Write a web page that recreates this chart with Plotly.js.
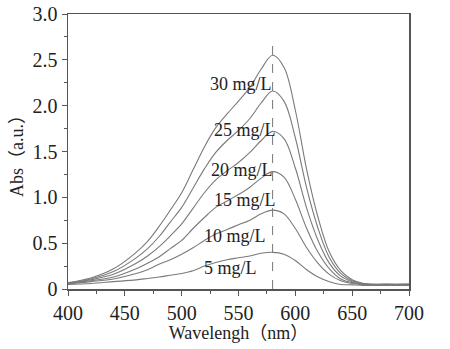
<!DOCTYPE html>
<html>
<head>
<meta charset="utf-8">
<script src="https://cdn.plot.ly/plotly-3.0.1.min.js"></script>
<style>html,body{margin:0;padding:0;background:#fff;}#chart{width:450px;height:349px;}</style>
</head>
<body>
<div id="chart"></div>
<script>
const wavelength = [400,420,440,460,470,480,490,500,510,520,530,540,550,560,570,580,590,600,610,620,630,640,650,660,680,700];
const abs30 = [0.07,0.12,0.22,0.40,0.52,0.68,0.86,1.05,1.30,1.55,1.76,1.91,2.05,2.20,2.40,2.55,2.42,1.95,1.30,0.78,0.40,0.20,0.10,0.06,0.05,0.05];
const abs25 = [0.065,0.11,0.19,0.34,0.44,0.57,0.73,0.89,1.10,1.31,1.49,1.62,1.73,1.86,2.03,2.16,2.05,1.65,1.10,0.66,0.34,0.17,0.09,0.06,0.05,0.05];
const abs20 = [0.06,0.10,0.16,0.28,0.36,0.46,0.58,0.71,0.88,1.05,1.19,1.29,1.38,1.49,1.62,1.72,1.64,1.32,0.88,0.53,0.28,0.14,0.08,0.05,0.05,0.05];
const abs15 = [0.06,0.09,0.13,0.22,0.28,0.35,0.44,0.53,0.66,0.78,0.89,0.96,1.03,1.11,1.21,1.28,1.22,0.98,0.66,0.40,0.22,0.11,0.07,0.05,0.05,0.05];
const abs10 = [0.055,0.08,0.11,0.17,0.21,0.27,0.32,0.38,0.45,0.53,0.60,0.65,0.70,0.75,0.82,0.86,0.82,0.66,0.45,0.28,0.16,0.09,0.06,0.05,0.045,0.045];
const abs5  = [0.05,0.06,0.08,0.10,0.115,0.13,0.15,0.17,0.20,0.25,0.29,0.32,0.34,0.36,0.39,0.40,0.38,0.31,0.21,0.13,0.08,0.05,0.045,0.04,0.04,0.04];
const seriesNames = ['30 mg/L','25 mg/L','20 mg/L','15 mg/L','10 mg/L','5 mg/L'];
const seriesData = [abs30, abs25, abs20, abs15, abs10, abs5];
const labelX = [552, 556, 553, 556, 547, 543];
const labelY = [2.24, 1.73, 1.30, 0.97, 0.58, 0.23];
const peakWavelength = 580;
const dashTop = 2.68;
const yTickVals = [0,0.5,1.0,1.5,2.0,2.5,3.0];
const yTickText = ['0','0.5','1.0','1.5','2.0','2.5','3.0'];
const xTickVals = [400,450,500,550,600,650,700];

const serif = '"Liberation Serif", "Times New Roman", "Noto Sans CJK SC", serif';
const traces = seriesData.map((ys, i) => ({
  x: wavelength, y: ys, type: 'scatter', mode: 'lines', name: seriesNames[i],
  line: {color: '#7a7a7a', width: 1.1, shape: 'spline', smoothing: 1.0},
  hoverinfo: 'skip'
}));

const annotations = seriesNames.map((t, i) => ({
  x: labelX[i], y: labelY[i], xref: 'x', yref: 'y', text: t, showarrow: false,
  font: {family: serif, size: 18, color: '#222'}
}));

const layout = {
  width: 450, height: 349,
  margin: {l: 68, r: 41, t: 14, b: 60},
  paper_bgcolor: '#fff', plot_bgcolor: '#fff',
  showlegend: false,
  font: {family: serif, size: 20, color: '#222'},
  xaxis: {
    range: [400, 700], tickvals: xTickVals, ticks: 'outside', ticklen: 5, tickwidth: 1,
    tickcolor: '#555', showgrid: false, zeroline: false,
    showline: true, linecolor: '#555', linewidth: 1.5, mirror: true,
    minor: {dtick: 25, tick0: 400, ticks: 'outside', ticklen: 3, tickcolor: '#555', showgrid: false},
    tickfont: {family: serif, size: 20, color: '#222'},
    title: {text: 'Wavelengh（nm）', font: {family: serif, size: 18, color: '#222'}, standoff: 2}
  },
  yaxis: {
    range: [0, 3], tickvals: yTickVals, ticktext: yTickText, ticks: 'outside', ticklen: 5, tickwidth: 1,
    tickcolor: '#555', showgrid: false, zeroline: false,
    showline: true, linecolor: '#555', linewidth: 1.5, mirror: true,
    minor: {dtick: 0.25, tick0: 0, ticks: 'outside', ticklen: 3, tickcolor: '#555', showgrid: false},
    tickfont: {family: serif, size: 20, color: '#222'},
    title: {text: 'Abs（a.u.）', font: {family: serif, size: 18, color: '#222'}, standoff: 4}
  },
  shapes: [{
    type: 'line', xref: 'x', yref: 'y', x0: peakWavelength, x1: peakWavelength, y0: 0, y1: dashTop,
    line: {color: '#777', width: 1, dash: 'dash'}
  }],
  annotations: annotations
};

Plotly.newPlot('chart', traces, layout, {staticPlot: true, displayModeBar: false});
</script>
</body>
</html>
